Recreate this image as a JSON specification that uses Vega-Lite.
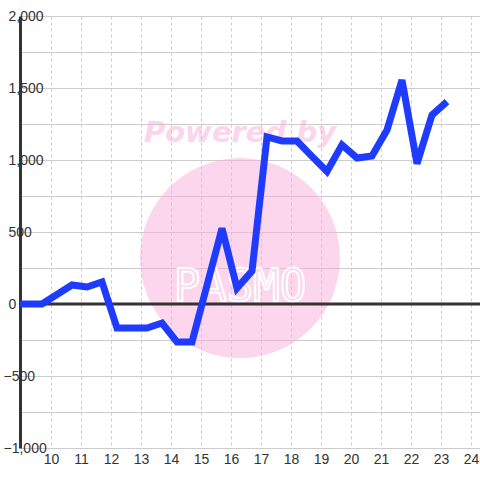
{
  "$schema": "https://vega.github.io/schema/vega-lite/v6.json",
  "width": 460,
  "height": 432,
  "autosize": {"type": "none"},
  "padding": {"left": 20, "top": 16, "right": 0, "bottom": 32},
  "background": "#ffffff",
  "config": {
    "view": {"stroke": null},
    "font": "Liberation Sans",
    "axis": {"labelFontSize": 14, "labelColor": "#333333", "labelFont": "Liberation Sans", "ticks": false, "gridColor": "#cccccc", "gridWidth": 1, "labelFlush": false, "labelOverlap": false, "title": null},
    "axisX": {"domain": false, "labelPadding": 4, "gridDash": [3, 3]},
    "axisY": {"domain": true, "domainColor": "#333333", "domainWidth": 3, "labelAlign": "left", "labelBaseline": "middle", "labelPadding": 12}
  },
  "datasets": {
    "series": [
      {"x": 8.97, "y": 0},
      {"x": 9.7, "y": 0},
      {"x": 10.2, "y": 66},
      {"x": 10.7, "y": 132},
      {"x": 11.2, "y": 118},
      {"x": 11.7, "y": 153},
      {"x": 12.2, "y": -167},
      {"x": 12.7, "y": -167},
      {"x": 13.2, "y": -167},
      {"x": 13.7, "y": -132},
      {"x": 14.2, "y": -264},
      {"x": 14.7, "y": -264},
      {"x": 15.2, "y": 130},
      {"x": 15.7, "y": 525},
      {"x": 16.2, "y": 110},
      {"x": 16.7, "y": 229},
      {"x": 17.2, "y": 1160},
      {"x": 17.7, "y": 1132},
      {"x": 18.2, "y": 1132},
      {"x": 18.7, "y": 1025},
      {"x": 19.2, "y": 920},
      {"x": 19.7, "y": 1105},
      {"x": 20.2, "y": 1014},
      {"x": 20.7, "y": 1028},
      {"x": 21.2, "y": 1208},
      {"x": 21.7, "y": 1555},
      {"x": 22.2, "y": 975},
      {"x": 22.7, "y": 1312},
      {"x": 23.2, "y": 1405}
    ],
    "watermark": [
      {"x": 16.3, "y": 319}
    ],
    "wmtext": [
      {"x": 16.3, "y": 1187, "label": "Powered by"},
      {"x": 16.3, "y": 111, "label": "PASMO"}
    ]
  },
  "encoding": {
    "x": {"field": "x", "type": "quantitative", "scale": {"domain": [8.967, 24.3], "nice": false, "zero": false},
      "axis": {"values": [10, 11, 12, 13, 14, 15, 16, 17, 18, 19, 20, 21, 22, 23, 24]}},
    "y": {"field": "y", "type": "quantitative", "scale": {"domain": [-1000, 2000], "nice": false, "zero": false},
      "axis": {"values": [-1000, -750, -500, -250, 0, 250, 500, 750, 1000, 1250, 1500, 1750, 2000],
        "labelExpr": "datum.value % 500 == 0 ? format(datum.value, ',') : ''",
        "labelPadding": {"condition": {"test": "datum.value < 0", "value": 17}, "value": 12}}}
  },
  "layer": [
    {
      "data": {"name": "watermark"},
      "mark": {"type": "point", "shape": "circle", "filled": true, "size": 40000, "color": "#f7add9", "opacity": 0.5}
    },
    {
      "data": {"name": "wmtext"},
      "transform": [{"filter": "datum.label == 'Powered by'"}],
      "mark": {"type": "text", "fontSize": 29, "fontWeight": "bold", "fontStyle": "italic", "color": "#f7add9", "opacity": 0.5, "font": "DejaVu Sans", "baseline": "middle"},
      "encoding": {"text": {"field": "label"}}
    },
    {
      "data": {"name": "wmtext"},
      "transform": [{"filter": "datum.label == 'PASMO'"}],
      "mark": {"type": "text", "fontSize": 44, "font": "DejaVu Sans Mono", "fillOpacity": 0, "stroke": "#ffffff", "strokeWidth": 2, "baseline": "middle"},
      "encoding": {"text": {"field": "label"}}
    },
    {
      "data": {"values": [{"y": 0}]},
      "mark": {"type": "rule", "color": "#333333", "strokeWidth": 3},
      "encoding": {"x": null, "y": {"field": "y", "type": "quantitative"}}
    },
    {
      "data": {"name": "series"},
      "mark": {"type": "line", "color": "#1f3bff", "strokeWidth": 7, "strokeJoin": "miter", "strokeCap": "butt", "clip": true}
    }
  ]
}
